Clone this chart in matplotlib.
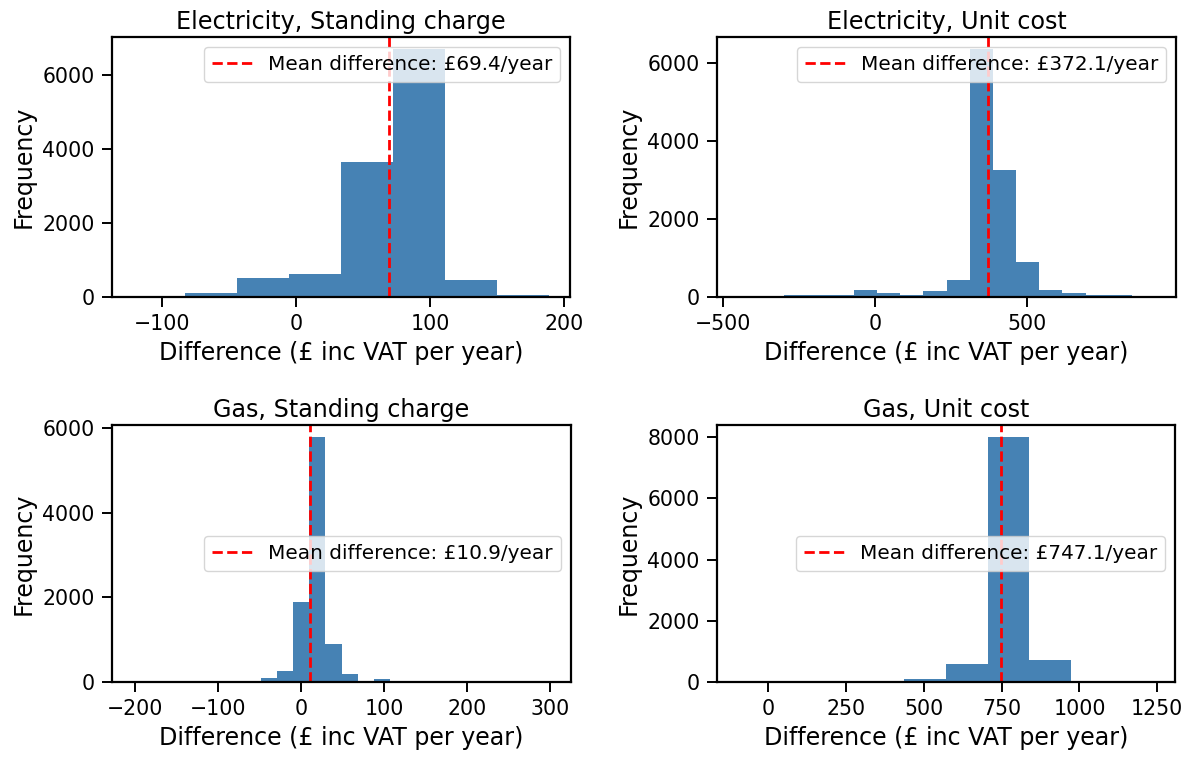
import matplotlib
matplotlib.use("Agg")
import matplotlib.pyplot as plt
import numpy as np

# Histogram data: data range (min, max) and bin counts
elec_sc_range = (-122, 189)
elec_sc_counts = [5, 117, 513, 622, 3649, 6694, 450, 55]
elec_sc_mean = 69.4

elec_uc_range = (-450, 922)
elec_uc_counts = [4, 5, 50, 50, 50, 188, 111, 55, 145, 427,
                  6357, 3268, 887, 188, 111, 50, 50, 4]
elec_uc_mean = 372.1

gas_sc_range = (-203, 300)
gas_sc_counts = [1, 0, 0, 0, 0, 0, 1, 2, 105, 252, 1887, 5778, 904,
                 197, 3, 75, 2, 1, 0, 0, 0, 0, 0, 0, 0, 1]
gas_sc_mean = 10.9

gas_uc_range = (-97, 1240)
gas_uc_counts = [2, 1, 3, 10, 87, 576, 8000, 728, 2, 1]
gas_uc_mean = 747.1

titles = ["Electricity, Standing charge", "Electricity, Unit cost",
          "Gas, Standing charge", "Gas, Unit cost"]
ranges = [elec_sc_range, elec_uc_range, gas_sc_range, gas_uc_range]
counts = [elec_sc_counts, elec_uc_counts, gas_sc_counts, gas_uc_counts]
means = [elec_sc_mean, elec_uc_mean, gas_sc_mean, gas_uc_mean]
legend_locs = ["upper right", "upper right", "center right", "center right"]
xticks = [[-100, 0, 100, 200], [-500, 0, 500],
          [-200, -100, 0, 100, 200, 300], [0, 250, 500, 750, 1000, 1250]]
yticks = [[0, 2000, 4000, 6000], [0, 2000, 4000, 6000],
          [0, 2000, 4000, 6000], [0, 2000, 4000, 6000, 8000]]

W, H = 1194, 758
fig = plt.figure(figsize=(W / 100, H / 100), dpi=100)

# axes boxes in pixels: left, top, right, bottom
boxes = [(112, 37, 570, 297), (717, 37, 1176, 297),
         (112, 425, 571, 682), (717, 425, 1175, 682)]

for i in range(4):
    l, t, r, b = boxes[i]
    ax = fig.add_axes([l / W, 1 - b / H, (r - l) / W, (b - t) / H])
    c = np.array(counts[i], dtype=float)
    edges = np.linspace(ranges[i][0], ranges[i][1], len(c) + 1)
    ax.hist(edges[:-1], bins=edges, weights=c, color='steelblue')
    ax.axvline(means[i], color='red', linestyle='--', linewidth=2,
               label=f"Mean difference: £{means[i]:.1f}/year")
    ax.set_title(titles[i], fontsize=17.2, pad=6)
    ax.set_xlabel("Difference (£ inc VAT per year)", fontsize=17.1, labelpad=5)
    ax.set_ylabel("Frequency", fontsize=17.1, labelpad=5)
    ax.set_xticks(xticks[i])
    ax.set_yticks(yticks[i])
    ax.tick_params(labelsize=14.8, width=1.4, length=7.5, pad=5)
    for s in ax.spines.values():
        s.set_linewidth(1.6)
    ax.legend(loc=legend_locs[i], fontsize=14.4)

plt.savefig("out.png", dpi=100)
